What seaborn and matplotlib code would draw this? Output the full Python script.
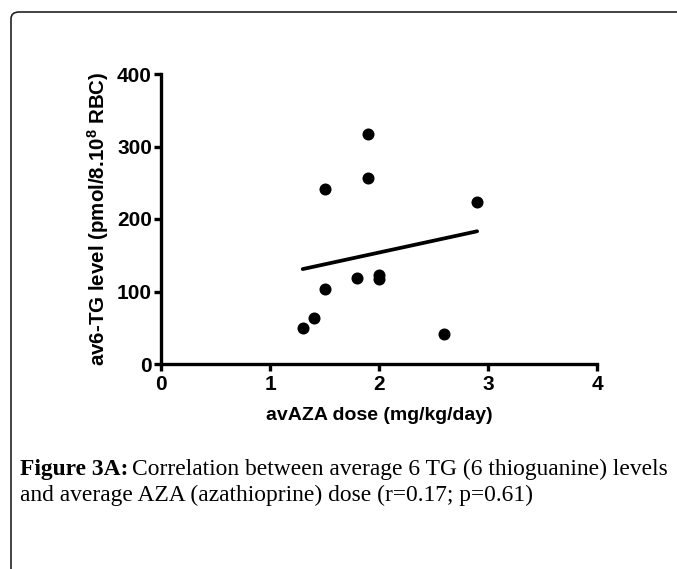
import matplotlib
matplotlib.use("Agg")
import matplotlib.pyplot as plt
import seaborn as sns
from matplotlib.patches import FancyBboxPatch

# average AZA dose (mg/kg/day) and average 6-TG level per patient
aza_dose = [1.3, 1.4, 1.5, 1.5, 1.8, 1.9, 1.9, 2.0, 2.0, 2.6, 2.9]
tg_level = [50, 63, 103, 241, 118, 256, 317, 123, 117, 41, 223]

x_ticks = [0, 1, 2, 3, 4]
y_ticks = [0, 100, 200, 300, 400]

sns.set_style("white")
plt.rcParams['font.family'] = ['Liberation Sans', 'DejaVu Sans']
plt.rcParams['mathtext.fontset'] = 'custom'
plt.rcParams['mathtext.rm'] = 'Liberation Sans:bold'
plt.rcParams['mathtext.default'] = 'rm'

W, H = 677, 569
fig = plt.figure(figsize=(W / 100, H / 100), dpi=100)

# rounded frame around the figure panel (runs off right/bottom edge)
frame = FancyBboxPatch((11 / W, -0.1), 1.2, 1 - 12 / H + 0.1,
                       boxstyle="round,pad=0,rounding_size=0.012",
                       transform=fig.transFigure, fill=False,
                       lw=1.2, ec="#222222", clip_on=False)
fig.patches.append(frame)

ax = fig.add_axes([161 / W, 1 - 364 / H, 436 / W, 290 / H])
sns.regplot(x=aza_dose, y=tg_level, ax=ax, ci=None, truncate=True,
            scatter_kws=dict(s=75, color="black", linewidths=0, alpha=1),
            line_kws=dict(color="black", lw=2.7))

ax.set_xlim(0, 4)
ax.set_ylim(0, 400)
ax.set_xticks(x_ticks)
ax.set_yticks(y_ticks)
for s in ["top", "right"]:
    ax.spines[s].set_visible(False)
for s in ["left", "bottom"]:
    ax.spines[s].set_linewidth(2.4)
    ax.spines[s].set_color("black")
ax.tick_params(direction="out", length=5, width=2.4, color="black",
               labelcolor="black", labelsize=15, pad=1.5,
               left=True, bottom=True)
ax.tick_params(axis="x", pad=3)
for lab in ax.get_xticklabels() + ax.get_yticklabels():
    lab.set_fontweight("bold")

ax.set_xlabel("avAZA dose (mg/kg/day)", fontsize=14, fontweight="bold",
              labelpad=9, color="black")
ax.set_ylabel("av6-TG level (pmol/8.10$^{8}$ RBC)", fontsize=14.8,
              fontweight="bold", labelpad=4, color="black")

# caption
cap_font = ['Liberation Serif', 'DejaVu Serif']
fs = 16.9
base1 = 1 - 475 / H
base2 = 1 - 501 / H
t1 = fig.text(20 / W, base1, "Figure 3A:", fontsize=fs, fontweight="bold",
              family=cap_font, va="baseline", color="black")
fig.canvas.draw()
bb = t1.get_window_extent(fig.canvas.get_renderer())
fig.text(bb.x1 / W + 4 / W, base1,
         "Correlation between average 6 TG (6 thioguanine) levels",
         fontsize=fs, family=cap_font, va="baseline", color="black")
fig.text(20 / W, base2,
         "and average AZA (azathioprine) dose (r=0.17; p=0.61)",
         fontsize=fs, family=cap_font, va="baseline", color="black")

fig.savefig("out.png", dpi=100)
